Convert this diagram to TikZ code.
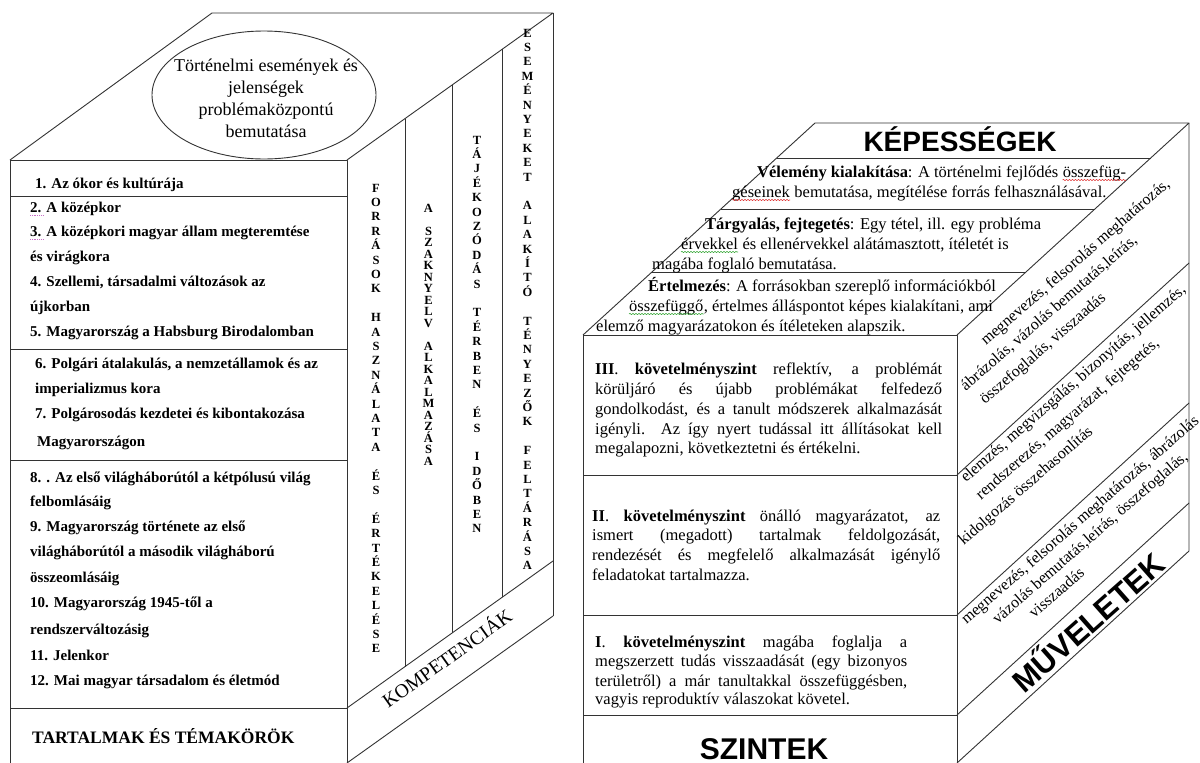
\documentclass[tikz,border=0pt]{standalone}
\usepackage{fontspec}
\setmainfont{Liberation Serif}
\newfontfamily\headfont{Liberation Sans}
\usetikzlibrary{shapes.geometric,decorations.pathmorphing,calc}
\definecolor{spellred}{RGB}{225,60,60}
\definecolor{spellgreen}{RGB}{60,170,60}
\definecolor{spellpink}{RGB}{200,110,200}
\begin{document}
\begin{tikzpicture}[x=1pt,y=-1pt,line join=round,
  edge/.style={draw=black!80,line width=0.9pt},
  item/.style={font=\fontsize{15}{18}\selectfont\bfseries,anchor=base west,inner sep=0},
  letter/.style={font=\fontsize{12.5}{14}\selectfont\bfseries,anchor=base,inner sep=0},
  toptext/.style={font=\fontsize{16.5}{20}\selectfont,anchor=base west,inner sep=0},
  bodytext/.style={font=\fontsize{16.5}{20}\selectfont,anchor=base west,inner sep=0},
  sidetext/.style={font=\fontsize{16}{20}\selectfont,anchor=base west,inner sep=0,rotate=41},
  headtext/.style={font=\headfont\bfseries\fontsize{28}{30}\selectfont,anchor=base,inner sep=0},
  squiggle/.style={line width=0.6pt,decorate,decoration={snake,amplitude=0.7pt,segment length=3pt}}]
\useasboundingbox (0,0) rectangle (1200,763);
\fill[white] (0,0) rectangle (1200,763);

% ---------------- left block: contents and competences ----------------
\coordinate (lfTL) at (10,160);
\coordinate (lfTR) at (347,160);
\coordinate (lfBL) at (10,763);
\coordinate (lfBR) at (347,763);
\coordinate (ltBL) at (212,13);
\coordinate (ltBR) at (553,13);
\coordinate (lsB)  at (553,616);
\draw[edge] (lfBL) -- (lfTL) -- (lfTR) -- (lfBR);
\draw[edge] (lfTL) -- (ltBL) -- (ltBR) -- (lfTR);
\draw[edge] (ltBR) -- (lsB);
\foreach \y in {196,349,460,708} \draw[edge] (10,\y) -- (347,\y);
% side face: competence columns and the bottom band
\draw[edge] (347,708) -- (553,561);
\draw[edge] (347,763) -- (lsB);
\foreach \x in {405,452,502}
  \draw[edge] (\x,{160-(\x-347)*0.7136}) -- (\x,{708-(\x-347)*0.7136});

% ellipse on the top face
\node[edge,ellipse,minimum width=224,minimum height=128,inner sep=0] (ell) at (264,95) {};
\node[font=\fontsize{18}{22}\selectfont,align=center,inner sep=0] (elltext) at (266,98)
  {Történelmi események és\\jelenségek\\problémaközpontú\\bemutatása};

% list of topics on the front face
\foreach [count=\i] \x/\y/\t in {
  35/188/{1. Az ókor és kultúrája},
  30/212/{2. A középkor},
  30/236/{3. A középkori magyar állam megteremtése},
  30/261/{és virágkora},
  30/286/{4. Szellemi, társadalmi változások az},
  30/311/{újkorban},
  30/336/{5. Magyarország a Habsburg Birodalomban},
  35/368/{6. Polgári átalakulás, a nemzetállamok és az},
  35/393/{imperializmus kora},
  35/418/{7. Polgárosodás kezdetei és kibontakozása},
  37/446/{Magyarországon},
  30/482/{8. . Az első világháborútól a kétpólusú világ},
  30/506/{felbomlásáig},
  30/531/{9. Magyarország története az első},
  30/556/{világháborútól a második világháború},
  30/582/{összeomlásáig},
  30/607/{10. Magyarország 1945-től a},
  30/634/{rendszerváltozásig},
  30/660/{11. Jelenkor},
  30/685/{12. Mai magyar társadalom és életmód}}
  \node[item] (item\i) at (\x,\y) {\t};
\draw[spellpink,densely dotted,line width=0.8pt] ([shift={(0,3)}]item2.base west) -- +(14,0);
\draw[spellpink,densely dotted,line width=0.8pt] ([shift={(0,3)}]item3.base west) -- +(14,0);
\node[item,font=\fontsize{17.5}{20}\selectfont\bfseries] (tartalmak) at (32,743) {TARTALMAK ÉS TÉMAKÖRÖK};

% vertical competence captions
\foreach [count=\i from 0] \c in {F,O,R,R,Á,S,O,K,{},H,A,S,Z,N,Á,L,A,T,A,{},É,S,{},É,R,T,É,K,E,L,É,S,E}
  \node[letter] (ca\i) at (376,{192+14.4*\i}) {\c};
\foreach [count=\i from 0] \c in {A,{},S,Z,A,K,N,Y,E,L,V,{},A,L,K,A,L,M,A,Z,Á,S,A}
  \node[letter] (cb\i) at (428.5,{212+11.5*\i}) {\c};
\foreach [count=\i from 0] \c in {T,Á,J,É,K,O,Z,Ó,D,Á,S,{},T,É,R,B,E,N,{},É,S,{},I,D,Ő,B,E,N}
  \node[letter] (cc\i) at (477,{144+14.4*\i}) {\c};
\foreach [count=\i from 0] \c in {E,S,E,M,É,N,Y,E,K,E,T,{},A,L,A,K,Í,T,Ó,{},T,É,N,Y,E,Z,Ő,K,{},F,E,L,T,Á,R,Á,S,A}
  \node[letter] (cd\i) at (527.5,{37+14.4*\i}) {\c};
\node[font=\fontsize{19.5}{21}\selectfont,anchor=base,inner sep=0,rotate=35.5] (komp) at (451,664) {KOMPETENCIÁK};

% ---------------- right block: levels, abilities, operations ----------------
\coordinate (rfTL) at (583,335);
\coordinate (rfTR) at (957,335);
\coordinate (rfBL) at (583,763);
\coordinate (rfBR) at (957,763);
\coordinate (rtBL) at (815,123);
\coordinate (rtBR) at (1189,123);
\coordinate (rsB)  at (1189,551);
\draw[edge] (rfBL) -- (rfTL) -- (rfTR) -- (rfBR);
\draw[edge] (rfTL) -- (rtBL) -- (rtBR) -- (rfTR);
\draw[edge] (rtBR) -- (rsB) -- (rfBR);
\foreach \y in {475,615,715} {
  \draw[edge] (583,\y) -- (957,\y);
  \draw[edge] (957,\y) -- (1189,{\y-212});
}
\foreach \y in {158,209,272}
  \draw[edge] ({583+(335-\y)*1.0943},\y) -- ({957+(335-\y)*1.0943},\y);

% top face
\node[headtext] (kepessegek) at (960,151) {KÉPESSÉGEK};
\node[toptext] (vel1a) at (757,177) {\textbf{Vélemény kialakítása}: A történelmi fejlődés};
\node[toptext] (vel1b) at ([xshift=4.1]vel1a.base east) {összefüg-};
\node[toptext] (vel2a) at (732,197) {géseinek};
\node[toptext] (vel2b) at ([xshift=4.1]vel2a.base east) {bemutatása, megítélése forrás felhasználásával.};
\node[toptext] (tar1) at (705,229) {\textbf{Tárgyalás, fejtegetés}: Egy tétel, ill. egy probléma};
\node[toptext] (tar2a) at (681,249) {érvekkel};
\node[toptext] (tar2b) at ([xshift=4.1]tar2a.base east) {és ellenérvekkel alátámasztott, ítéletét is};
\node[toptext] (tar3) at (652,269) {magába foglaló bemutatása.};
\node[toptext] (ert1) at (648,291) {\textbf{Értelmezés}: A forrásokban szereplő információkból};
\node[toptext] (ert2a) at (629,311) {összefüggő};
\node[toptext] (ert2b) at (ert2a.base east) {, értelmes álláspontot képes kialakítani, ami};
\node[toptext] (ert3) at (596,331) {elemző magyarázatokon és ítéleteken alapszik.};
\draw[spellred,squiggle] ([shift={(0,3)}]vel1b.base west) -- ([shift={(0,3)}]vel1b.base east);
\draw[spellred,squiggle] ([shift={(0,3)}]vel2a.base west) -- ([shift={(0,3)}]vel2a.base east);
\draw[spellgreen,squiggle] ([shift={(0,3)}]tar2a.base west) -- ([shift={(0,3)}]tar2a.base east);
\draw[spellgreen,squiggle] ([shift={(0,3)}]ert2a.base west) -- ([shift={(0,3)}]ert2a.base east);

% front face: requirement levels
\node[bodytext] (lv3a) at (595,374) {\makebox[347pt][s]{\textbf{III}. \textbf{követelményszint} reflektív, a problémát}};
\node[bodytext] (lv3b) at (595,394) {\makebox[347pt][s]{körüljáró és újabb problémákat felfedező}};
\node[bodytext] (lv3c) at (595,414) {\makebox[347pt][s]{gondolkodást, és a tanult módszerek alkalmazását}};
\node[bodytext] (lv3d) at (595,434) {\makebox[347pt][s]{igényli.\ \ Az így nyert tudással itt állításokat kell}};
\node[bodytext] (lv3e) at (595,453) {megalapozni, következtetni és értékelni.};

\node[bodytext] (lv2a) at (592,521) {\makebox[348pt][s]{\textbf{II}. \textbf{követelményszint} önálló magyarázatot, az}};
\node[bodytext] (lv2b) at (592,540) {\makebox[348pt][s]{ismert (megadott) tartalmak feldolgozását,}};
\node[bodytext] (lv2c) at (592,560) {\makebox[348pt][s]{rendezését és megfelelő alkalmazását igénylő}};
\node[bodytext] (lv2d) at (592,580) {feladatokat tartalmazza.};

\node[bodytext] (lv1a) at (595,647) {\makebox[312pt][s]{\textbf{I}. \textbf{követelményszint} magába foglalja a}};
\node[bodytext] (lv1b) at (595,666) {\makebox[312pt][s]{megszerzett tudás visszaadását (egy bizonyos}};
\node[bodytext] (lv1c) at (595,686) {\makebox[312pt][s]{területről) a már tanultakkal összefüggésben,}};
\node[bodytext] (lv1d) at (595,704) {vagyis reproduktív válaszokat követel.};

\node[headtext,font=\headfont\bfseries\fontsize{30}{32}\selectfont] (szintek) at (764,759) {SZINTEK};

% side face: operations
\node[sidetext] (op1a) at (986,346) {megnevezés, felsorolás meghatározás,};
\node[sidetext] (op1b) at (965.8,391.4) {ábrázolás, vázolás bemutatás,leírás,};
\node[sidetext] (op1c) at (985,405) {összefoglalás, visszaadás};
\node[sidetext] (op2a) at (966,483) {elemzés, megvizsgálás, bizonyítás, jellemzés,};
\node[sidetext] (op2b) at (981,500.4) {rendszerezés, magyarázat, fejtegetés,};
\node[sidetext] (op2c) at (963.7,545.9) {kidolgozás összehasonlítás};
\node[sidetext] (op3a) at (966.5,625) {megnevezés, felsorolás meghatározás, ábrázolás};
\node[sidetext] (op3b) at (997.7,624.4) {vázolás bemutatás,leírás, összefoglalás,};
\node[sidetext] (op3c) at (1034.2,619.1) {visszaadás};
\node[headtext,font=\headfont\bfseries\fontsize{31}{33}\selectfont,rotate=41.5] (muveletek) at (1096,631) {MŰVELETEK};
\end{tikzpicture}
\end{document}
